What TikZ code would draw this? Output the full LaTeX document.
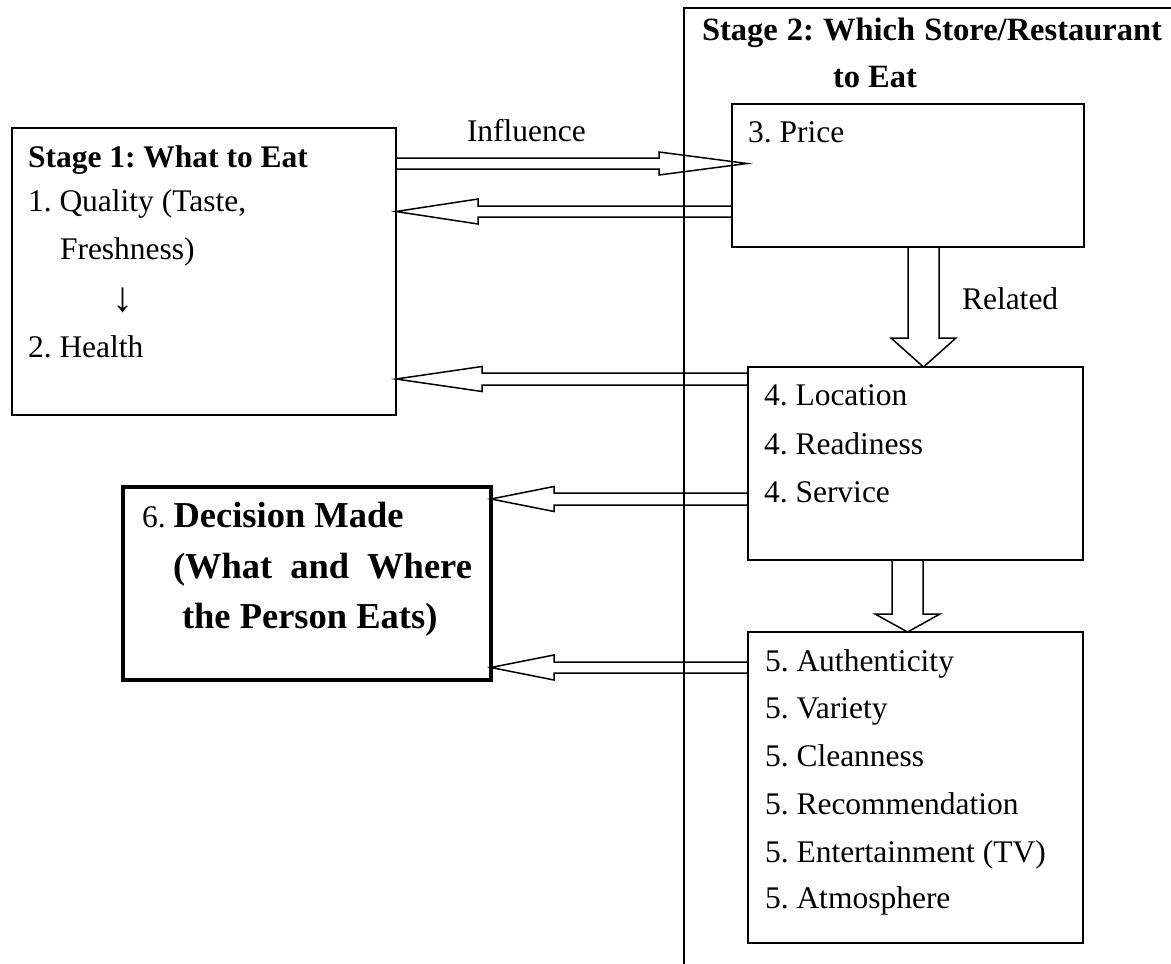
\documentclass[tikz,border=0pt]{standalone}
\usepackage{fontspec}
\setmainfont{Liberation Serif}
\usetikzlibrary{calc}
\frenchspacing
\newcommand{\hollowarrow}[5]{%
  \path (#1) coordinate (ha) (#2) coordinate (hb);
  \path ($(hb)!#3!(ha)$) coordinate (hm);
  \draw[arrowline] ($(ha)!#4!90:(hb)$) -- ($(hm)!#4!90:(hb)$) -- ($(hm)!#5!90:(hb)$) -- (hb)
     -- ($(hm)!#5!-90:(hb)$) -- ($(hm)!#4!-90:(hb)$) -- ($(ha)!#4!-90:(hb)$);
}
\tikzset{
  box/.style={draw, line width=1.6pt, inner sep=0pt, outer sep=0pt, anchor=north west},
  thickbox/.style={box, line width=3.2pt},
  frameline/.style={line width=1.6pt},
  arrowline/.style={line width=1.5pt, line join=miter},
  txt/.style={anchor=base west, inner sep=0pt, outer sep=0pt, font=\fontsize{31.5}{38}\selectfont\frenchspacing},
  btxt/.style={anchor=base west, inner sep=0pt, outer sep=0pt, font=\fontsize{31.5}{38}\selectfont\bfseries\frenchspacing},
  stxt/.style={anchor=base west, inner sep=0pt, outer sep=0pt, font=\fontsize{32.5}{38}\selectfont\bfseries\frenchspacing},
  dtxt/.style={anchor=base west, inner sep=0pt, outer sep=0pt, font=\fontsize{36.5}{42}\selectfont\bfseries\frenchspacing},
}
\begin{document}
\frenchspacing
\begin{tikzpicture}[x=1pt, y=-1pt]
\useasboundingbox (0,0) rectangle (1171,964);
% Stage 2 frame
\coordinate (fbot) at (684,964);
\coordinate (ftl) at (684,8);
\coordinate (ftr) at (1171,8);
\draw[frameline] (fbot) -- (ftl) -- (ftr);
% boxes
\node[box, minimum width=384pt, minimum height=287pt] (s1) at (12,128) {};
\node[box, minimum width=352pt, minimum height=143pt] (price) at (732,104) {};
\node[box, minimum width=335pt, minimum height=193pt] (loc) at (748,367) {};
\node[box, minimum width=335pt, minimum height=311pt] (auth) at (748,632) {};
\node[thickbox, minimum width=368pt, minimum height=193pt] (dec) at (123,487) {};
% texts
\node[stxt] (t2a) at (702,40) {\makebox[460pt][s]{Stage 2: Which Store/Restaurant}};
\node[stxt] (t2b) at (833,87) {to Eat};
\node[btxt] (t1) at (28,167) {Stage 1: What to Eat};
\node[txt] (q1) at (28,211) {1. Quality (Taste,};
\node[txt] (q2) at (60,259) {Freshness)};
\node[txt, anchor=base, font=\fontsize{42}{42}\selectfont] (qa) at (123,311) {↓};
\node[txt] (h2) at (28,357) {2. Health};
\node[txt] (p3) at (748,142) {3. Price};
\node[txt] (infl) at (467,141) {Influence};
\node[txt] (rel) at (962,309) {Related};
\node[txt] (l1) at (764,405) {4. Location};
\node[txt] (l2) at (764,454) {4. Readiness};
\node[txt] (l3) at (764,502) {4. Service};
\node[txt] (a1) at (765,671) {5. Authenticity};
\node[txt] (a2) at (765,718) {5. Variety};
\node[txt] (a3) at (765,766) {5. Cleanness};
\node[txt] (a4) at (765,814) {5. Recommendation};
\node[txt] (a5) at (765,862) {5. Entertainment (TV)};
\node[txt] (a6) at (765,908) {5. Atmosphere};
\node[txt] (d1) at (142,527) {6. {\fontsize{36.5}{42}\selectfont\bfseries Decision Made}};
\node[dtxt] (d2) at (173,578) {\makebox[299pt][s]{(What and Where}};
\node[dtxt] (d3) at (182,628) {the Person Eats)};
% arrows
\hollowarrow{s1.east |- 0,163.5}{$(price.west |- 0,163.5)+(15,0)$}{88pt}{5.5pt}{11.5pt}
\hollowarrow{price.west |- 0,211.5}{s1.east |- 0,211.5}{82pt}{5.5pt}{12.5pt}
\hollowarrow{loc.west |- 0,379}{s1.east |- 0,379}{86pt}{6pt}{12.5pt}
\hollowarrow{loc.west |- 0,499}{dec.east |- 0,499}{63pt}{6pt}{12.5pt}
\hollowarrow{auth.west |- 0,667.5}{dec.east |- 0,667.5}{63pt}{5.5pt}{12.5pt}
\hollowarrow{price.south -| 923.5,0}{loc.north -| 923.5,0}{29pt}{15.5pt}{32.5pt}
\hollowarrow{loc.south -| 907.5,0}{auth.north -| 907.5,0}{18pt}{15.5pt}{32.5pt}
\end{tikzpicture}
\end{document}
